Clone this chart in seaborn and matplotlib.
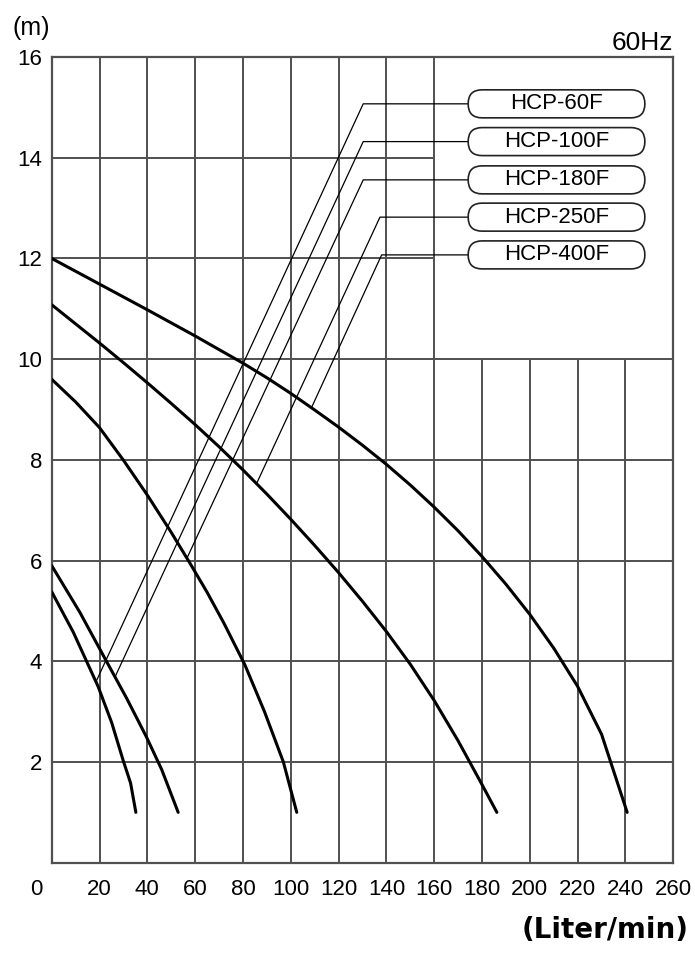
import numpy as np
import pandas as pd
import matplotlib
matplotlib.use('Agg')
import matplotlib.pyplot as plt
import seaborn as sns
from matplotlib.patches import FancyBboxPatch
from matplotlib.transforms import ScaledTranslation

# Pump models
models = ['HCP-60F', 'HCP-100F', 'HCP-180F', 'HCP-250F', 'HCP-400F']

# Head curves: flow (L/min) vs head (m)
flow_60 = [0, 9.0, 19.4, 25.1, 29.9, 33.0, 35.2]
head_60 = [5.38, 4.58, 3.5, 2.78, 2.03, 1.58, 1.0]
flow_100 = [0, 11.8, 22.9, 31.3, 39.6, 46.0, 52.9]
head_100 = [5.9, 4.97, 4.0, 3.27, 2.5, 1.85, 1.0]
flow_180 = [0, 10, 20, 29.9, 40, 50, 57.8, 65, 72, 80.8, 89, 96.9, 102.5]
head_180 = [9.6, 9.15, 8.64, 8.0, 7.3, 6.56, 5.95, 5.37, 4.76, 3.93, 3.0, 2.0, 1.0]
flow_250 = [0, 10, 20, 30, 40, 50, 60, 70, 80, 90, 100, 110, 120, 130, 140,
            150, 160, 170, 180, 186.2]
head_250 = [11.08, 10.70, 10.32, 9.93, 9.53, 9.12, 8.70, 8.26, 7.80, 7.32, 6.82,
            6.30, 5.76, 5.19, 4.59, 3.94, 3.22, 2.42, 1.55, 1.0]
flow_400 = [0, 20, 40, 60, 80, 90, 100, 110, 120, 130, 140, 150, 160, 170,
            180, 190, 200, 210, 220, 230, 240.7]
head_400 = [12.0, 11.49, 10.98, 10.46, 9.92, 9.63, 9.32, 8.99, 8.65, 8.29, 7.91,
            7.5, 7.06, 6.59, 6.08, 5.53, 4.93, 4.26, 3.5, 2.55, 1.0]

# Leader lines: point on curve -> elbow -> label box
leader_start_x = [18.5, 26.5, 56.5, 85.7, 108.7]
leader_start_y = [3.59, 3.69, 6.04, 7.53, 9.04]
leader_elbow_x = [130.3, 130.3, 130.3, 137.3, 138.0]
label_y = [15.07, 14.32, 13.56, 12.82, 12.07]
box_left, box_right = 174.2, 248.1

x_ticks = list(range(0, 261, 20))
y_ticks = list(range(2, 17, 2))

frames = []
for name, fx, hy in zip(models,
                        [flow_60, flow_100, flow_180, flow_250, flow_400],
                        [head_60, head_100, head_180, head_250, head_400]):
    frames.append(pd.DataFrame({'flow': fx, 'head': hy, 'model': name}))
curves = pd.concat(frames, ignore_index=True)

sns.set_style('white')
plt.rcParams['font.family'] = ['Liberation Sans', 'DejaVu Sans']
plt.rcParams['text.color'] = 'black'
plt.rcParams['xtick.color'] = 'black'
plt.rcParams['ytick.color'] = 'black'

W, H = 695, 955
fig = plt.figure(figsize=(W / 100, H / 100), dpi=100)
ax = fig.add_axes([51.7 / W, (H - 862.7) / H, (673.3 - 51.7) / W, (862.7 - 57) / H])

grid_c = '#505050'
# Grid: upper right quadrant is left open for the model labels
for xv in x_ticks[1:-1]:
    top = 16 if xv <= 160 else 10
    ax.vlines(xv, 0, top, color=grid_c, lw=1.4, zorder=1)
for yv in y_ticks[:-1]:
    right = 260 if yv <= 10 else 160
    ax.hlines(yv, 0, right, color=grid_c, lw=1.4, zorder=1)

sns.lineplot(data=curves, x='flow', y='head', hue='model', units='model',
             estimator=None, sort=False, palette=['black'] * len(models),
             lw=2.2, legend=False, ax=ax, zorder=3)

# Leader lines and pill-shaped labels
r = 14 / (673.3 - 51.7) * 260
asp = (14 / (862.7 - 57) * 16) / r
h = 28 / (862.7 - 57) * 16
for name, sx, sy, ex, ly in zip(models, leader_start_x, leader_start_y,
                                leader_elbow_x, label_y):
    ax.plot([sx, ex, box_left], [sy, ly, ly], color='black', lw=0.9, zorder=2)
    box = FancyBboxPatch((box_left, ly - h / 2), box_right - box_left, h,
                         boxstyle=f'round,pad=0,rounding_size={r * 0.99:.3f}',
                         mutation_aspect=asp, fc='white', ec='#222222', lw=1.2,
                         zorder=4)
    ax.add_patch(box)
    ax.text((box_left + box_right) / 2, ly, name, ha='center', va='center',
            fontsize=16, zorder=5)

ax.set_xlim(0, 260)
ax.set_ylim(0, 16)
ax.set_xticks(x_ticks)
ax.set_xticklabels([str(v) for v in x_ticks])
ax.set_yticks(y_ticks)
ax.set_yticklabels([str(v) for v in y_ticks])
ax.tick_params(axis='both', length=0, labelsize=16)
ax.tick_params(axis='x', pad=12)
ax.tick_params(axis='y', pad=7)
ax.set_xlabel('')
ax.set_ylabel('')
for sp in ax.spines.values():
    sp.set_visible(True)
    sp.set_color(grid_c)
    sp.set_linewidth(1.6)

# the "0" label sits left of the axis corner
lbl0 = ax.get_xticklabels()[0]
lbl0.set_transform(lbl0.get_transform() + ScaledTranslation(-15 / 100, 0, fig.dpi_scale_trans))

fig.text(12 / W, 1 - 28 / H, '(m)', ha='left', va='center', fontsize=18)
fig.text(673 / W, 1 - 50 / H, '60Hz', ha='right', va='baseline', fontsize=19)
fig.text(689 / W, 1 - 930 / H, '(Liter/min)', ha='right', va='center',
         fontsize=20, fontweight='bold', family=['DejaVu Sans'])

fig.savefig('out.png', dpi=100)
